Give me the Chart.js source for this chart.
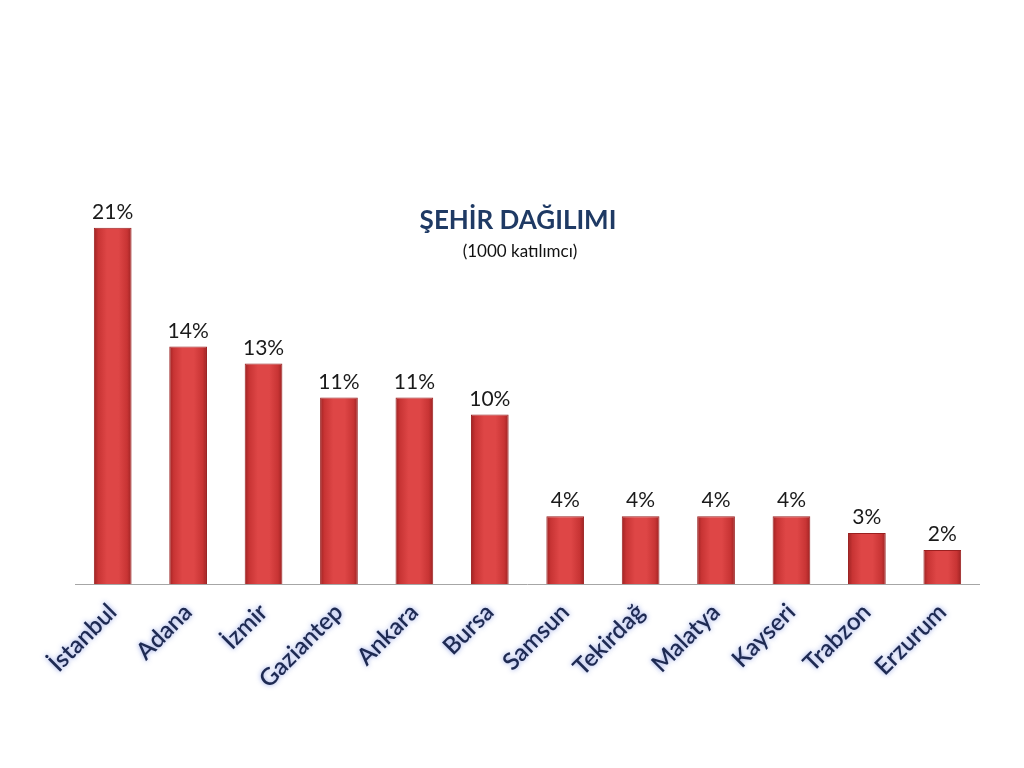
<!DOCTYPE html>
<html>
<head>
<meta charset="utf-8">
<script src="https://cdn.jsdelivr.net/npm/chart.js@4"></script>
<style>
  html, body { margin: 0; padding: 0; background: #fff; }
  #wrap { width: 1024px; height: 768px; }
</style>
</head>
<body>
<div id="wrap"><canvas id="grafico" width="1024" height="768"></canvas></div>
<script>
const sehirler = ['İstanbul', 'Adana', 'İzmir', 'Gaziantep', 'Ankara', 'Bursa',
  'Samsun', 'Tekirdağ', 'Malatya', 'Kayseri', 'Trabzon', 'Erzurum'];
const yuzdeler = [21, 14, 13, 11, 11, 10, 4, 4, 4, 4, 3, 2];
const baslik = 'ŞEHİR DAĞILIMI';
const altBaslik = '(1000 katılımcı)';

function barRengi(context){
    const chart = context.chart;
    if (!chart.chartArea || !chart.scales.x) return '#d43c3c';
    const x = chart.scales.x.getPixelForValue(context.dataIndex);
    const g = chart.ctx.createLinearGradient(x - 19, 0, x + 19, 0);
    g.addColorStop(0, '#9c2222');
    g.addColorStop(0.12, '#c83434');
    g.addColorStop(0.35, '#de4646');
    g.addColorStop(0.65, '#de4646');
    g.addColorStop(0.88, '#c83434');
    g.addColorStop(1, '#9c2222');
    return g;
}

// glow for the tick labels, cleared before bars are drawn
const parlama = {
    id: 'parlama',
    beforeDraw(chart){
        const ctx = chart.ctx;
        ctx.shadowColor = 'rgba(120,140,225,0.85)';
        ctx.shadowBlur = 5;
    },
    beforeDatasetsDraw(chart){
        const ctx = chart.ctx;
        ctx.shadowColor = 'rgba(0,0,0,0)';
        ctx.shadowBlur = 0;
    }
};

const yazilar = {
    id: 'yazilar',
    afterDatasetsDraw(chart){
        const { ctx, chartArea: { left, right, bottom } } = chart;
        ctx.save();
        // axis line
        ctx.strokeStyle = '#a6a6a6';
        ctx.lineWidth = 1;
        ctx.beginPath();
        ctx.moveTo(left, bottom + 0.5);
        ctx.lineTo(right, bottom + 0.5);
        ctx.stroke();

        // value labels
        ctx.fillStyle = '#1a1a1a';
        ctx.font = '21px Lato, sans-serif';
        ctx.textAlign = 'center';
        ctx.textBaseline = 'bottom';
        const meta = chart.getDatasetMeta(0);
        meta.data.forEach((bar, i) => {
            ctx.fillText(yuzdeler[i] + '%', bar.x, bar.y - 5);
        });

        // title
        ctx.fillStyle = '#1f3a64';
        ctx.font = 'bold 26px Lato, sans-serif';
        ctx.textBaseline = 'alphabetic';
        ctx.fillText(baslik, 518, 229);
        ctx.fillStyle = '#111';
        ctx.font = '17px Lato, sans-serif';
        ctx.fillText(altBaslik, 520, 257);
        ctx.restore();
    }
};

new Chart(document.getElementById('grafico'), {
    type: 'bar',
    data: {
        labels: sehirler,
        datasets: [{
            data: yuzdeler,
            backgroundColor: barRengi,
            borderColor: '#9a2020',
            borderWidth: 1,
            categoryPercentage: 1,
            barPercentage: 0.5
        }]
    },
    options: {
        responsive: false,
        animation: false,
        layout: { padding: { left: 75, right: 44, top: 160, bottom: 0 } },
        plugins: {
            legend: { display: false },
            tooltip: { enabled: false }
        },
        scales: {
            x: {
                grid: { display: false },
                border: { display: false },
                ticks: {
                    color: '#1e2a52',
                    font: { family: 'Lato', size: 24, weight: '600' },
                    minRotation: 45,
                    maxRotation: 45,
                    padding: 6
                },
                afterFit(scale){ scale.height = 184; }
            },
            y: {
                display: false,
                min: 0,
                max: 25
            }
        }
    },
    plugins: [parlama, yazilar]
});
</script>
</body>
</html>
